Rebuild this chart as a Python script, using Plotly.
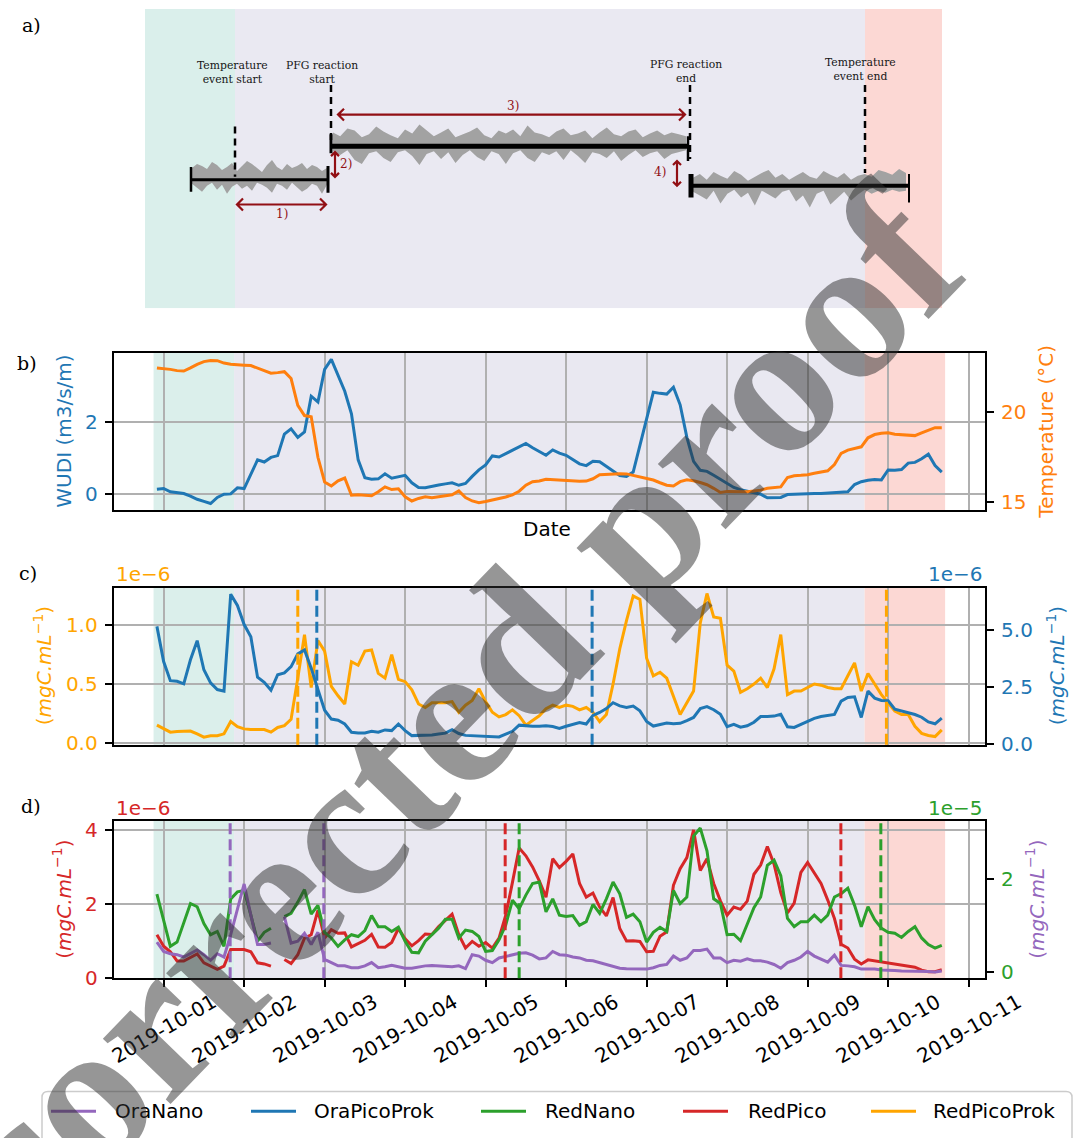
import numpy as np
import pandas as pd
import plotly.graph_objects as go

W, H = 1077, 1138
FONT = "DejaVu Sans"
SERIF = "DejaVu Serif"
GRID = "#b0b0b0"


def px(x):
    return x / W


def py(y):
    return 1 - y / H


# ---------------- data (2-hourly samples) ----------------
times = pd.date_range("2019-09-30 22:00", periods=118, freq="2h")

wudi = [0.12, 0.14, 0.05, 0.02, 0.00, -0.07, -0.16, -0.22, -0.28, -0.11,
        -0.02, -0.01, 0.16, 0.14, 0.54, 0.94, 0.88, 1.01, 1.06, 1.66,
        1.81, 1.57, 1.72, 2.72, 2.56, 3.47, 3.75, 3.31, 2.86, 2.23,
        0.94, 0.44, 0.40, 0.41, 0.55, 0.43, 0.46, 0.51, 0.30, 0.17,
        0.16, 0.21, 0.24, 0.27, 0.30, 0.23, 0.28, 0.48, 0.66, 0.80,
        1.05, 1.02, 1.12, 1.20, 1.30, 1.40, 1.28, 1.17, 1.07, 1.22,
        1.13, 1.07, 0.95, 0.83, 0.78, 0.90, 0.89, 0.75, 0.63, 0.50,
        0.48, 0.60, 1.35, 2.10, 2.83, 2.80, 2.78, 2.97, 2.48, 1.57,
        0.90, 0.65, 0.62, 0.51, 0.39, 0.28, 0.17, 0.11, 0.07, 0.03,
        -0.02, -0.12, -0.12, -0.11, -0.03, -0.02, -0.02, 0.01, 0.00, 0.00,
        0.01, 0.02, 0.03, 0.05, 0.25, 0.33, 0.37, 0.39, 0.38, 0.66,
        0.65, 0.67, 0.85, 0.87, 0.97, 1.10, 0.78, 0.60]

temperature = [22.45, 22.42, 22.37, 22.30, 22.28, 22.45, 22.65, 22.80, 22.86, 22.85,
               22.72, 22.65, 22.61, 22.60, 22.58, 22.45, 22.30, 22.16, 22.19, 22.24,
               21.86, 20.38, 19.81, 19.74, 17.50, 16.13, 15.91, 16.19, 16.35, 15.40,
               15.42, 15.38, 15.37, 15.59, 15.86, 15.71, 15.75, 15.31, 15.08, 15.22,
               15.31, 15.26, 15.31, 15.37, 15.42, 15.64, 15.27, 15.08, 14.98, 15.05,
               15.15, 15.22, 15.30, 15.42, 15.62, 15.95, 16.15, 16.19, 16.28, 16.25,
               16.22, 16.19, 16.17, 16.17, 16.18, 16.31, 16.53, 16.56, 16.59, 16.59,
               16.58, 16.50, 16.39, 16.35, 16.24, 16.09, 15.95, 15.91, 16.15, 16.25,
               16.20, 16.10, 15.98, 15.78, 15.55, 15.61, 15.60, 15.59, 15.59, 15.63,
               15.68, 15.78, 15.83, 15.86, 16.38, 16.48, 16.50, 16.53, 16.61, 16.69,
               16.75, 17.10, 17.72, 17.90, 18.00, 18.08, 18.58, 18.76, 18.83, 18.86,
               18.78, 18.75, 18.72, 18.70, 18.85, 19.00, 19.14, 19.14]

# panel c (x 1e-6 mgC/mL)
ora_pico_prok = [5.17, 3.62, 2.78, 2.75, 2.64, 3.70, 4.54, 3.26, 2.68, 2.39,
                 2.32, 6.59, 6.09, 5.25, 4.71, 2.93, 2.71, 2.36, 3.04, 3.12,
                 3.40, 3.96, 4.13, 3.33, 2.39, 1.48, 1.09, 1.04, 0.87, 0.51,
                 0.48, 0.48, 0.55, 0.51, 0.61, 0.58, 0.87, 0.58, 0.36, 0.36,
                 0.39, 0.39, 0.43, 0.47, 0.62, 0.45, 0.37, 0.36, 0.36, 0.34,
                 0.31, 0.30, 0.43, 0.55, 0.82, 0.79, 0.77, 0.77, 0.79, 0.76,
                 0.68, 0.77, 0.85, 0.94, 0.87, 1.25, 1.38, 1.55, 1.81, 1.67,
                 1.60, 1.66, 1.45, 0.98, 0.78, 0.84, 0.91, 0.88, 0.90, 1.02,
                 1.16, 1.55, 1.64, 1.50, 1.30, 0.75, 0.86, 0.73, 0.79, 0.95,
                 1.20, 1.20, 1.22, 1.30, 0.75, 0.72, 0.85, 0.98, 1.12, 1.20,
                 1.26, 1.29, 1.88, 2.04, 2.07, 1.16, 2.32, 2.01, 1.91, 1.90,
                 1.52, 1.44, 1.36, 1.29, 1.17, 0.96, 0.88, 1.13]

red_pico_prok = [0.15, 0.12, 0.09, 0.095, 0.10, 0.10, 0.075, 0.048, 0.06, 0.06,
                 0.076, 0.18, 0.137, 0.118, 0.112, 0.109, 0.112, 0.09, 0.13, 0.146,
                 0.20, 0.55, 0.92, 0.47, 0.87, 0.78, 0.48, 0.40, 0.33, 0.69,
                 0.66, 0.78, 0.79, 0.59, 0.55, 0.75, 0.54, 0.52, 0.45, 0.33,
                 0.30, 0.34, 0.34, 0.34, 0.35, 0.26, 0.32, 0.36, 0.46, 0.35,
                 0.26, 0.22, 0.24, 0.28, 0.23, 0.15, 0.19, 0.23, 0.29, 0.32,
                 0.30, 0.32, 0.31, 0.28, 0.30, 0.26, 0.18, 0.24, 0.50, 0.80,
                 1.04, 1.25, 1.22, 0.72, 0.57, 0.60, 0.55, 0.40, 0.24, 0.34,
                 0.44, 1.02, 1.27, 1.07, 1.06, 0.66, 0.61, 0.43, 0.46, 0.50,
                 0.55, 0.47, 0.63, 0.92, 0.41, 0.44, 0.44, 0.47, 0.50, 0.49,
                 0.47, 0.46, 0.46, 0.57, 0.68, 0.44, 0.59, 0.50, 0.41, 0.34,
                 0.27, 0.24, 0.24, 0.14, 0.08, 0.062, 0.053, 0.11]

# panel d: RedPico in 1e-6, RedNano / OraNano in 1e-5 mgC/mL
red_pico = [1.16, 0.85, 0.70, 0.45, 0.45, 0.55, 0.64, 0.40, 0.31, 0.22,
            0.31, 0.76, 0.76, 0.76, 0.70, 0.40, 0.37, 0.31, None, 0.49,
            0.38, 0.62, 1.07, 1.16, 1.82, 1.07, 1.30, 1.20, 1.21, 0.83,
            0.92, 1.01, 1.17, 0.83, 0.82, 0.95, 1.33, 1.05, 0.86, 1.00,
            1.18, 1.17, 1.38, 1.56, 1.72, 1.16, 0.80, 0.98, 0.85, 0.95,
            0.80, 1.07, 1.69, 2.58, 3.51, 3.30, 3.00, 2.62, 2.18, 3.22,
            2.98, 3.15, 3.35, 2.55, 2.18, 2.29, 1.91, 1.67, 2.17, 1.33,
            0.99, 1.00, 0.98, 0.70, 0.71, 1.12, 1.24, 2.50, 2.95, 3.25,
            4.00, 2.90, 3.22, 2.55, 2.08, 1.69, 1.91, 1.85, 2.07, 2.80,
            3.05, 3.55, 3.07, 2.30, 1.75, 2.02, 2.85, 3.12, 2.85, 2.55,
            2.10, 1.60, 0.90, 0.80, 0.50, 0.37, 0.48, 0.45, 0.42, 0.40,
            0.38, 0.35, 0.30, 0.28, 0.20, 0.16, 0.16, 0.21]

red_nano = [1.67, 1.08, 0.55, 0.64, 1.08, 1.47, 1.40, 1.04, 0.80, 0.87,
            0.55, 1.57, 1.72, 1.75, 1.22, 0.66, 0.85, 0.94, None, 1.19,
            1.26, 1.50, 1.77, 1.24, 1.43, 0.85, 0.73, 0.55, 0.69, 0.80,
            0.76, 0.89, 1.21, 0.97, 0.97, 0.87, 0.96, 0.66, 0.42, 0.41,
            0.66, 0.80, 0.94, 1.13, 1.13, 0.73, 0.90, 0.87, 0.76, 0.44,
            0.46, 0.69, 1.01, 1.54, 1.36, 1.65, 1.90, 1.93, 1.29, 1.57,
            1.22, 1.19, 1.21, 1.00, 1.08, 1.45, 1.26, 1.57, 1.93, 1.68,
            1.17, 1.24, 1.08, 0.64, 0.85, 0.96, 0.87, 1.75, 1.47, 1.61,
            2.92, 3.09, 2.60, 1.57, 1.47, 0.80, 0.81, 0.67, 1.01, 1.38,
            1.61, 2.29, 2.40, 2.07, 1.15, 0.97, 1.08, 1.08, 1.22, 1.08,
            1.22, 1.61, 1.68, 1.80, 1.43, 0.97, 1.40, 1.12, 0.94, 0.85,
            0.83, 0.74, 0.87, 0.97, 0.73, 0.59, 0.51, 0.57]

ora_nano = [0.64, 0.44, 0.39, 0.37, 0.32, 0.39, 0.47, 0.37, 0.25, 0.39,
            0.32, 0.80, 1.33, 1.89, 1.22, 0.59, 0.59, 0.62, None, 1.19,
            0.62, 0.66, 0.83, 0.59, 0.85, 0.27, 0.20, 0.13, 0.13, 0.09,
            0.09, 0.13, 0.20, 0.09, 0.11, 0.14, 0.11, 0.08, 0.08, 0.11,
            0.13, 0.14, 0.13, 0.13, 0.11, 0.13, 0.07, 0.37, 0.34, 0.25,
            0.20, 0.30, 0.33, 0.37, 0.40, 0.41, 0.36, 0.28, 0.30, 0.44,
            0.37, 0.36, 0.32, 0.30, 0.25, 0.24, 0.20, 0.15, 0.11, 0.08,
            0.07, 0.07, 0.07, 0.06, 0.09, 0.14, 0.16, 0.34, 0.25, 0.30,
            0.46, 0.46, 0.49, 0.30, 0.30, 0.20, 0.25, 0.23, 0.28, 0.24,
            0.24, 0.21, 0.16, 0.08, 0.20, 0.25, 0.32, 0.44, 0.34, 0.27,
            0.21, 0.36, 0.14, 0.13, 0.11, 0.06, 0.06, 0.06, 0.04, 0.04,
            0.03, 0.02, 0.02, 0.02, 0.01, 0.01, 0.00, 0.02]

series_names = ["OraNano", "OraPicoProk", "RedNano", "RedPico", "RedPicoProk"]
series_colors = {"OraNano": "#9467bd", "OraPicoProk": "#1f77b4", "RedNano": "#2ca02c",
                 "RedPico": "#d62728", "RedPicoProk": "#ffa500"}
WUDI_COLOR = "#1f77b4"
TEMP_COLOR = "#ff7f0e"

date_ticks = ["2019-10-01", "2019-10-02", "2019-10-03", "2019-10-04", "2019-10-05", "2019-10-06",
              "2019-10-07", "2019-10-08", "2019-10-09", "2019-10-10", "2019-10-11"]

period_bounds = ["2019-09-30 21:00", "2019-10-01 21:00", "2019-10-09 17:00", "2019-10-10 17:00"]
period_colors = ["rgb(219,239,235)", "rgb(233,232,241)", "rgb(252,216,212)"]

events_c = {"RedPicoProk": ["2019-10-02 16:00", "2019-10-09 23:30"],
            "OraPicoProk": ["2019-10-02 21:40", "2019-10-06 07:45"]}
events_d = {"OraNano": ["2019-10-01 19:50", "2019-10-02 23:45"],
            "RedPico": ["2019-10-05 05:50", "2019-10-09 09:55"],
            "RedNano": ["2019-10-05 10:00", "2019-10-09 21:50"]}

# schematic (panel a) noise envelopes, in pixels
seg1_up = [12, 16, 14, 11, 18, 15, 10, 13, 17, 9, 14, 19, 16, 12, 8, 15, 20, 13, 10, 16, 12, 14, 17, 11, 15, 13, 9, 12]
seg1_dn = [4, 8, 12, 6, 3, 10, 5, 14, 7, 4, 9, 6, 11, 3, 5, 8, 13, 4, 6, 10, 3, 7, 12, 9, 4, 6, 14, 5]
seg2_up = [14, 10, 18, 16, 9, 12, 20, 15, 11, 8, 17, 13, 22, 16, 10, 14, 18, 9, 12, 15,
           19, 11, 8, 16, 13, 17, 10, 21, 14, 12, 9, 15, 18, 11, 13, 16, 8, 14, 19, 12,
           10, 15, 17, 9, 13, 16, 11, 14, 12, 10]
seg2_dn = [5, 9, 4, 14, 18, 7, 5, 12, 16, 6, 4, 10, 19, 8, 5, 13, 6, 17, 9, 4,
           11, 15, 5, 8, 18, 7, 4, 12, 16, 6, 9, 5, 14, 4, 10, 17, 6, 8, 12, 5,
           15, 9, 4, 11, 7, 5, 13, 8, 6, 4]
seg3_up = [8, 12, 6, 14, 10, 7, 15, 11, 5, 9, 13, 16, 8, 12, 6, 10, 14, 9, 7, 15,
           11, 8, 13, 6, 10, 12, 9, 16, 14, 11, 17, 13]
seg3_dn = [6, 10, 14, 5, 18, 8, 4, 12, 7, 20, 5, 9, 13, 6, 4, 16, 10, 22, 8, 5,
           19, 12, 6, 15, 9, 4, 8, 5, 7, 4, 6, 5]

# ---------------- figure ----------------
fig = go.Figure()


def line_trace(y, color, xa, ya, name):
    return go.Scatter(x=times, y=y, mode="lines", name=name, xaxis=xa, yaxis=ya,
                      line=dict(color=color, width=3), showlegend=False, hoverinfo="skip")


# b
fig.add_trace(line_trace(wudi, WUDI_COLOR, "x", "y", "WUDI"))
fig.add_trace(line_trace(temperature, TEMP_COLOR, "x", "y2", "Temperature"))
# c
fig.add_trace(line_trace(red_pico_prok, series_colors["RedPicoProk"], "x2", "y3", "RedPicoProk"))
fig.add_trace(line_trace(ora_pico_prok, series_colors["OraPicoProk"], "x2", "y4", "OraPicoProk"))
# d
fig.add_trace(line_trace(red_pico, series_colors["RedPico"], "x3", "y5", "RedPico"))
fig.add_trace(line_trace(red_nano, series_colors["RedNano"], "x3", "y6", "RedNano"))
fig.add_trace(line_trace(ora_nano, series_colors["OraNano"], "x3", "y6", "OraNano"))

# schematic noise polygons
for (x0, x1, base, up, dn) in [(192, 327, 179, seg1_up, seg1_dn),
                               (333, 686, 145, seg2_up, seg2_dn),
                               (693, 906, 185, seg3_up, seg3_dn)]:
    xs = np.linspace(x0, x1, len(up))
    poly_x = list(xs) + list(xs[::-1])
    poly_y = [base - u for u in up] + [base + d for d in dn[::-1]]
    fig.add_trace(go.Scatter(x=poly_x, y=poly_y, mode="lines", fill="toself",
                             fillcolor="#a2a2a2", line=dict(width=0, color="#a2a2a2"),
                             xaxis="x4", yaxis="y7", showlegend=False, hoverinfo="skip"))

XDOM = [px(113.6), px(985.2)]
XRANGE = ["2019-09-30 09:05", "2019-10-11 04:57"]


def xaxis(anchor, ticks):
    d = dict(type="date", range=XRANGE, domain=XDOM, anchor=anchor,
             showgrid=True, gridcolor=GRID, gridwidth=1.6, dtick=86400000, tick0="2019-10-01",
             showline=True, mirror=True, linecolor="black", linewidth=1.8, zeroline=False,
             showticklabels=False)
    if ticks:
        d.update(ticks="outside", ticklen=7, tickwidth=1.6, tickcolor="black")
    else:
        d.update(ticks="")
    return d


def yaxis(domain, rng, vals, texts, color, anchor, side="left", overlaying=None, grid=True):
    d = dict(domain=domain, range=rng, tickvals=vals, ticktext=texts, side=side, anchor=anchor,
             showgrid=grid, gridcolor=GRID, gridwidth=1.6, zeroline=False,
             showline=True, linecolor="black", linewidth=1.8,
             ticks="outside", ticklen=7, tickwidth=1.6, tickcolor="black",
             ticklabelstandoff=3,
             tickfont=dict(family=FONT, size=20, color=color))
    if overlaying:
        d["overlaying"] = overlaying
    return d


DOM_B = [py(513.3), py(354.3)]
DOM_C = [py(751.0), py(592.3)]
DOM_D = [py(987.3), py(828.3)]

fig.update_layout(
    width=W, height=H, autosize=False,
    margin=dict(l=0, r=0, t=0, b=0),
    paper_bgcolor="white", plot_bgcolor="white",
    showlegend=False,
    xaxis=xaxis("y", False),
    xaxis2=xaxis("y3", False),
    xaxis3=xaxis("y5", True),
    yaxis=yaxis(DOM_B, [-0.46, 3.93], [0, 2], ["0", "2"], WUDI_COLOR, "x"),
    yaxis2=yaxis(DOM_B, [14.58, 23.28], [15, 20], ["15", "20"], TEMP_COLOR, "x", "right", "y", False),
    yaxis3=yaxis(DOM_C, [-0.017, 1.317], [0, 0.5, 1.0], ["0.0", "0.5", "1.0"], series_colors["RedPicoProk"], "x2"),
    yaxis4=yaxis(DOM_C, [-0.043, 6.86], [0, 2.5, 5.0], ["0.0", "2.5", "5.0"], series_colors["OraPicoProk"], "x2", "right", "y3", False),
    yaxis5=yaxis(DOM_D, [-0.016, 4.24], [0, 2, 4], ["0", "2", "4"], series_colors["RedPico"], "x3"),
    yaxis6=yaxis(DOM_D, [-0.134, 3.24], [0, 2], ["0", "2"], series_colors["RedNano"], "x3", "right", "y5", False),
    xaxis4=dict(domain=[px(145), px(942)], range=[145, 942], visible=False, anchor="y7", fixedrange=True),
    yaxis7=dict(domain=[py(309), py(6)], range=[309, 6], visible=False, anchor="x4", fixedrange=True),
)

shapes = []
# period shading on b, c, d
for xa, ya in [("x", "y"), ("x2", "y3"), ("x3", "y5")]:
    for k, col in enumerate(period_colors):
        shapes.append(dict(type="rect", xref=xa, yref=ya + " domain", x0=period_bounds[k], x1=period_bounds[k + 1],
                           y0=0, y1=1, fillcolor=col, line=dict(width=0), layer="below"))

# event dashed lines
for name, ts in events_c.items():
    for t in ts:
        shapes.append(dict(type="line", xref="x2", yref="y3 domain", x0=t, x1=t, y0=0, y1=1,
                           line=dict(color=series_colors[name], width=3, dash="11px,5px")))
for name, ts in events_d.items():
    for t in ts:
        shapes.append(dict(type="line", xref="x3", yref="y5 domain", x0=t, x1=t, y0=0, y1=1,
                           line=dict(color=series_colors[name], width=3, dash="11px,5px")))

# ---- schematic (panel a) ----
sch = dict(xref="x4", yref="y7")
for x0, x1, col in [(145, 235, "rgb(218,239,235)"), (235, 865, "rgb(234,233,242)"), (865, 942, "rgb(252,216,212)")]:
    shapes.append(dict(type="rect", x0=x0, x1=x1, y0=6, y1=309, fillcolor=col, line=dict(width=0), layer="below", **sch))

BLACK = "black"
for (x0, x1, y, w) in [(191, 328, 179, 3), (331, 688, 145, 5), (691, 909, 185, 4)]:
    shapes.append(dict(type="line", x0=x0, x1=x1, y0=y, y1=y, line=dict(color=BLACK, width=w), **sch))
for (x, y0, y1, w) in [(191, 166, 191, 2.5), (328, 165, 192, 3), (331, 133, 152, 3), (688, 135, 160, 2.5),
                       (691, 173, 197, 5), (909, 173, 202, 2)]:
    shapes.append(dict(type="line", x0=x, x1=x, y0=y0, y1=y1, line=dict(color=BLACK, width=w), **sch))
for (x, y0, y1) in [(235, 125, 176), (331, 83, 140), (690, 83, 158), (865, 83, 172)]:
    shapes.append(dict(type="line", x0=x, x1=x, y0=y0, y1=y1, line=dict(color=BLACK, width=2.5, dash="7px,5px"), **sch))

ARROW = "rgb(145,15,20)"


def harrow(x0, x1, y, h=6):
    return (f"M{x0},{y} L{x1},{y} M{x0 + h},{y - h} L{x0},{y} L{x0 + h},{y + h} "
            f"M{x1 - h},{y - h} L{x1},{y} L{x1 - h},{y + h}")


def varrow(x, y0, y1, h=4):
    return (f"M{x},{y0} L{x},{y1} M{x - h},{y0 + h} L{x},{y0} L{x + h},{y0 + h} "
            f"M{x - h},{y1 - h} L{x},{y1} L{x + h},{y1 - h}")


for p in [harrow(237, 326, 204), varrow(335, 151, 176), harrow(338, 685, 113), varrow(677, 160, 185)]:
    shapes.append(dict(type="path", path=p, line=dict(color=ARROW, width=2.2), **sch))

# ---- manual legend ----
leg_y = 1122
shapes.append(dict(type="path", xref="paper", yref="paper",
                   path=f"M{px(48)},{py(1102)} L{px(1066)},{py(1102)} Q{px(1072)},{py(1102)} {px(1072)},{py(1108)} "
                        f"L{px(1072)},{py(1160)} L{px(42)},{py(1160)} L{px(42)},{py(1108)} Q{px(42)},{py(1102)} {px(48)},{py(1102)} Z",
                   line=dict(color="#cccccc", width=1.5), fillcolor="rgba(255,255,255,0.8)"))
leg_line_x = [51, 251, 481, 683, 871]
leg_text_x = [113, 312, 543, 746, 931]
annotations = []
for name, lx, tx in zip(series_names, leg_line_x, leg_text_x):
    shapes.append(dict(type="line", xref="paper", yref="paper", x0=px(lx), x1=px(lx + 45), y0=py(leg_y), y1=py(leg_y),
                       line=dict(color=series_colors[name], width=3)))
    annotations.append(dict(text=name, x=px(tx), y=py(leg_y), xref="paper", yref="paper", xanchor="left",
                            yanchor="middle", showarrow=False, font=dict(family=FONT, size=20, color="black")))


def ann(text, x, y, color="black", size=20, angle=0, xanchor="center", yanchor="middle", family=FONT, xref="paper"):
    return dict(text=text, x=x, y=y, xref=xref, yref="paper", showarrow=False, textangle=angle,
                xanchor=xanchor, yanchor=yanchor, font=dict(family=family, size=size, color=color))


UNIT = "(<i>mgC.mL</i><sup>−1</sup>)"
annotations += [
    ann("WUDI (m3/s/m)", px(64), py(434), WUDI_COLOR, angle=-90),
    ann("Temperature (°C)", px(1046), py(434), TEMP_COLOR, angle=-90),
    ann("Date", px(547), py(533)),
    ann(UNIT, px(43), py(671.5), series_colors["RedPicoProk"], angle=-90),
    ann(UNIT, px(1056), py(671.5), series_colors["OraPicoProk"], angle=-90),
    ann(UNIT, px(62), py(908), series_colors["RedPico"], angle=-90),
    ann(UNIT, px(1035), py(908), series_colors["OraNano"], angle=-90),
    ann("1e−6", px(113.6), py(578), series_colors["RedPicoProk"], xanchor="left"),
    ann("1e−6", px(985), py(578), series_colors["OraPicoProk"], xanchor="right"),
    ann("1e−6", px(113.6), py(815), series_colors["RedPico"], xanchor="left"),
    ann("1e−5", px(985), py(815), series_colors["RedNano"], xanchor="right"),
    ann("a)", px(20), py(22), size=19, xanchor="left", family=SERIF),
    ann("b)", px(15), py(364), size=19, xanchor="left", family=SERIF),
    ann("c)", px(17), py(577), size=19, xanchor="left", family=SERIF),
    ann("d)", px(19), py(813), size=19, xanchor="left", family=SERIF),
]

# rotated date tick labels under panel d
for d in date_ticks:
    annotations.append(dict(text=d, x=d, xref="x3", y=py(996), yref="paper", showarrow=False,
                            textangle=-30, xanchor="center", yanchor="top",
                            font=dict(family=FONT, size=20, color="black")))

# schematic labels
for txt, x, y in [("Temperature<br>event start", 232, 70), ("PFG reaction<br>start", 322, 70),
                  ("PFG reaction<br>end", 686, 69), ("Temperature<br>event end", 860, 67)]:
    annotations.append(dict(text=txt, x=x, y=y, xref="x4", yref="y7", showarrow=False,
                            xanchor="center", yanchor="middle",
                            font=dict(family=SERIF, size=10.8, color="#151515")))
for txt, x, y in [("1)", 282, 214), ("2)", 346, 163), ("3)", 513, 104), ("4)", 660, 171)]:
    annotations.append(dict(text=txt, x=x, y=y, xref="x4", yref="y7", showarrow=False,
                            xanchor="center", yanchor="middle",
                            font=dict(family=SERIF, size=12, color=ARROW)))

# watermark
annotations.append(dict(text="<b>Uncorrected proof</b>", x=px(362), y=py(812), xref="paper", yref="paper",
                        showarrow=False, textangle=-46, xanchor="center", yanchor="middle",
                        font=dict(family="Liberation Serif", size=205, color="rgba(45,45,45,0.5)")))

fig.update_layout(shapes=shapes, annotations=annotations)
fig.write_html("out.html", config={"displayModeBar": False},
               post_script="document.body.style.margin='0px';document.body.style.padding='0px';"
                           "document.documentElement.style.overflow='hidden';")
